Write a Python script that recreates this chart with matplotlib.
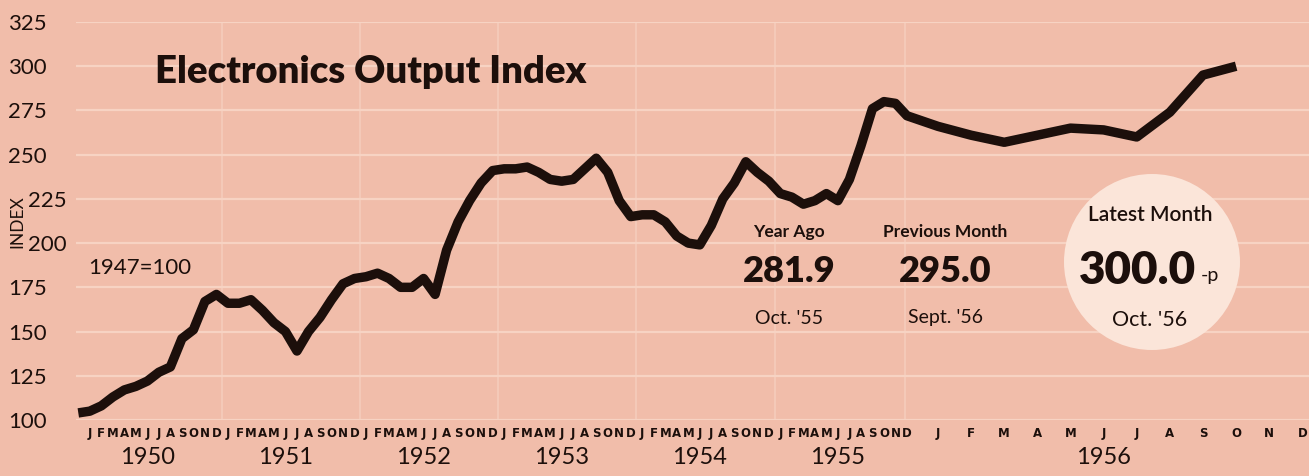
import numpy as np
import matplotlib
matplotlib.use("Agg")
import matplotlib.pyplot as plt
from matplotlib.patches import Ellipse
from matplotlib.transforms import ScaledTranslation

# month index: 0 = Jan 1950, line starts Dec 1949
start_month = -1
index_values = [
    104,
    105, 108, 113, 117, 119, 122, 127, 130, 146, 151, 167, 171,   # 1950
    166, 166, 168, 162, 155, 150, 139, 150, 158, 168, 177, 180,   # 1951
    181, 183, 180, 175, 175, 180, 171, 196, 212, 224, 234, 241,   # 1952
    242, 242, 243, 240, 236, 235, 236, 242, 248, 240, 224, 215,   # 1953
    216, 216, 212, 204, 200, 199, 210, 225, 234, 246, 240, 235,   # 1954
    228, 226, 222, 224, 228, 224, 236, 255, 276, 280, 279, 272,   # 1955
    266, 261, 257, 261, 265, 264, 260, 274, 295, 300,             # 1956
]
month_letters = ["J", "F", "M", "A", "M", "J", "J", "A", "S", "O", "N", "D"]
years = [1950, 1951, 1952, 1953, 1954, 1955, 1956]
y_ticks = [100, 125, 150, 175, 200, 225, 250, 275, 300, 325]

stats_titles = ["Year Ago", "Previous Month"]
stats_values = ["281.9", "295.0"]
stats_dates = ["Oct. '55", "Sept. '56"]
latest_value = "300.0"
latest_date = "Oct. '56"

BG = "#f1bdaa"
GRID = "#f7d3c3"
INK = "#1c0f0b"

# 1956 is drawn wider than the earlier years
brk_in = [-5, 71, 72, 87]
brk_out = [-5, 71, 71 + 31 / 11.5, 71 + 31 / 11.5 + 15 * 33.1 / 11.5]


def fwd(t):
    return np.interp(t, brk_in, brk_out)


def inv(u):
    return np.interp(u, brk_out, brk_in)


W, H = 1309, 476
fig = plt.figure(figsize=(W / 100, H / 100), dpi=100)
fig.patch.set_facecolor(BG)
ax_l, ax_r, ax_t, ax_b = 76, 1309, 22, 420
ax = fig.add_axes([ax_l / W, 1 - ax_b / H, (ax_r - ax_l) / W, (ax_b - ax_t) / H])
ax.set_facecolor(BG)
ax.set_xscale("function", functions=(fwd, inv))

t = np.arange(start_month, start_month + len(index_values))
ax.plot(t, index_values, color=INK, lw=6.8, solid_joinstyle="round",
        solid_capstyle="butt", zorder=5)

ax.set_ylim(100, 325)
ax.set_xlim(-1.2, 83.2)

# grid
ax.set_yticks(y_ticks)
ax.set_xticks(np.arange(0, 84))
ax.set_xticks([11.5, 23.5, 35.5, 47.5, 59.5, 70.8], minor=True)
ax.grid(True, axis="y", which="major", color=GRID, lw=1.6, zorder=0)
ax.grid(True, axis="x", which="minor", color=GRID, lw=1.2, alpha=0.7, zorder=0)
ax.tick_params(axis="x", which="both", length=0)
ax.tick_params(axis="y", length=0, pad=49, labelsize=16, labelcolor=INK)
for s in ax.spines.values():
    s.set_visible(False)

ax.set_yticklabels([str(v) for v in y_ticks], family="Lato")
for lab in ax.get_yticklabels():
    lab.set_horizontalalignment("left")
    if lab.get_text() in ("225", "200"):
        lab.set_transform(lab.get_transform() +
                          ScaledTranslation(20 / 100, 0, fig.dpi_scale_trans))

ax.set_xticklabels(month_letters * 7, family="DejaVu Sans", fontsize=8.5,
                   fontweight="bold", color=INK)
ax.tick_params(axis="x", pad=5)

# year labels under June of each year
for i, yr in enumerate(years):
    ax.text(12 * i + 5, -0.095, str(yr), transform=ax.get_xaxis_transform(),
            ha="center", va="center", fontsize=17, family="Lato", color=INK)

fig.text(17 / W, 1 - 222 / H, "INDEX", rotation=90, ha="center", va="center",
         fontsize=12.5, family="Lato", color=INK)


def px(x, y):
    return (x - ax_l) / (ax_r - ax_l), (ax_b - y) / (ax_b - ax_t)


ax.text(*px(155, 72), "Electronics Output Index", transform=ax.transAxes,
        ha="left", va="center", fontsize=27.5, fontweight="heavy",
        family="Lato", color=INK)
ax.text(*px(88, 268), "1947=100", transform=ax.transAxes, ha="left",
        va="center", fontsize=16, family="Lato", color=INK)

for cx, title, val, date in zip([789, 945], stats_titles, stats_values, stats_dates):
    ax.text(*px(cx, 232), title, transform=ax.transAxes, ha="center",
            va="center", fontsize=12.5, fontweight="bold", family="Lato", color=INK)
    ax.text(*px(cx, 272), val, transform=ax.transAxes, ha="center",
            va="center", fontsize=26, fontweight="heavy", family="Lato", color=INK)
    ax.text(*px(cx, 318), date, transform=ax.transAxes, ha="center",
            va="center", fontsize=14, family="Lato", color=INK)

# latest month disc
r = 88
ccx, ccy = px(1152, 262)
ax.add_patch(Ellipse((ccx, ccy), 2 * r / (ax_r - ax_l), 2 * r / (ax_b - ax_t),
                     transform=ax.transAxes, facecolor="#fbe5d9",
                     edgecolor="none", zorder=2))
ax.text(*px(1150, 215), "Latest Month", transform=ax.transAxes, ha="center",
        va="center", fontsize=15, fontweight="semibold", family="Lato",
        color=INK, zorder=3)
ax.text(*px(1137, 270), latest_value, transform=ax.transAxes, ha="center",
        va="center", fontsize=33, fontweight="heavy", family="Lato",
        color=INK, zorder=3)
ax.text(*px(1210, 276), "-p", transform=ax.transAxes, ha="center",
        va="center", fontsize=14, family="Lato", color=INK, zorder=3)
ax.text(*px(1150, 320), latest_date, transform=ax.transAxes, ha="center",
        va="center", fontsize=15.5, family="Lato", color=INK, zorder=3)

fig.savefig("out.png", dpi=100, facecolor=BG)
